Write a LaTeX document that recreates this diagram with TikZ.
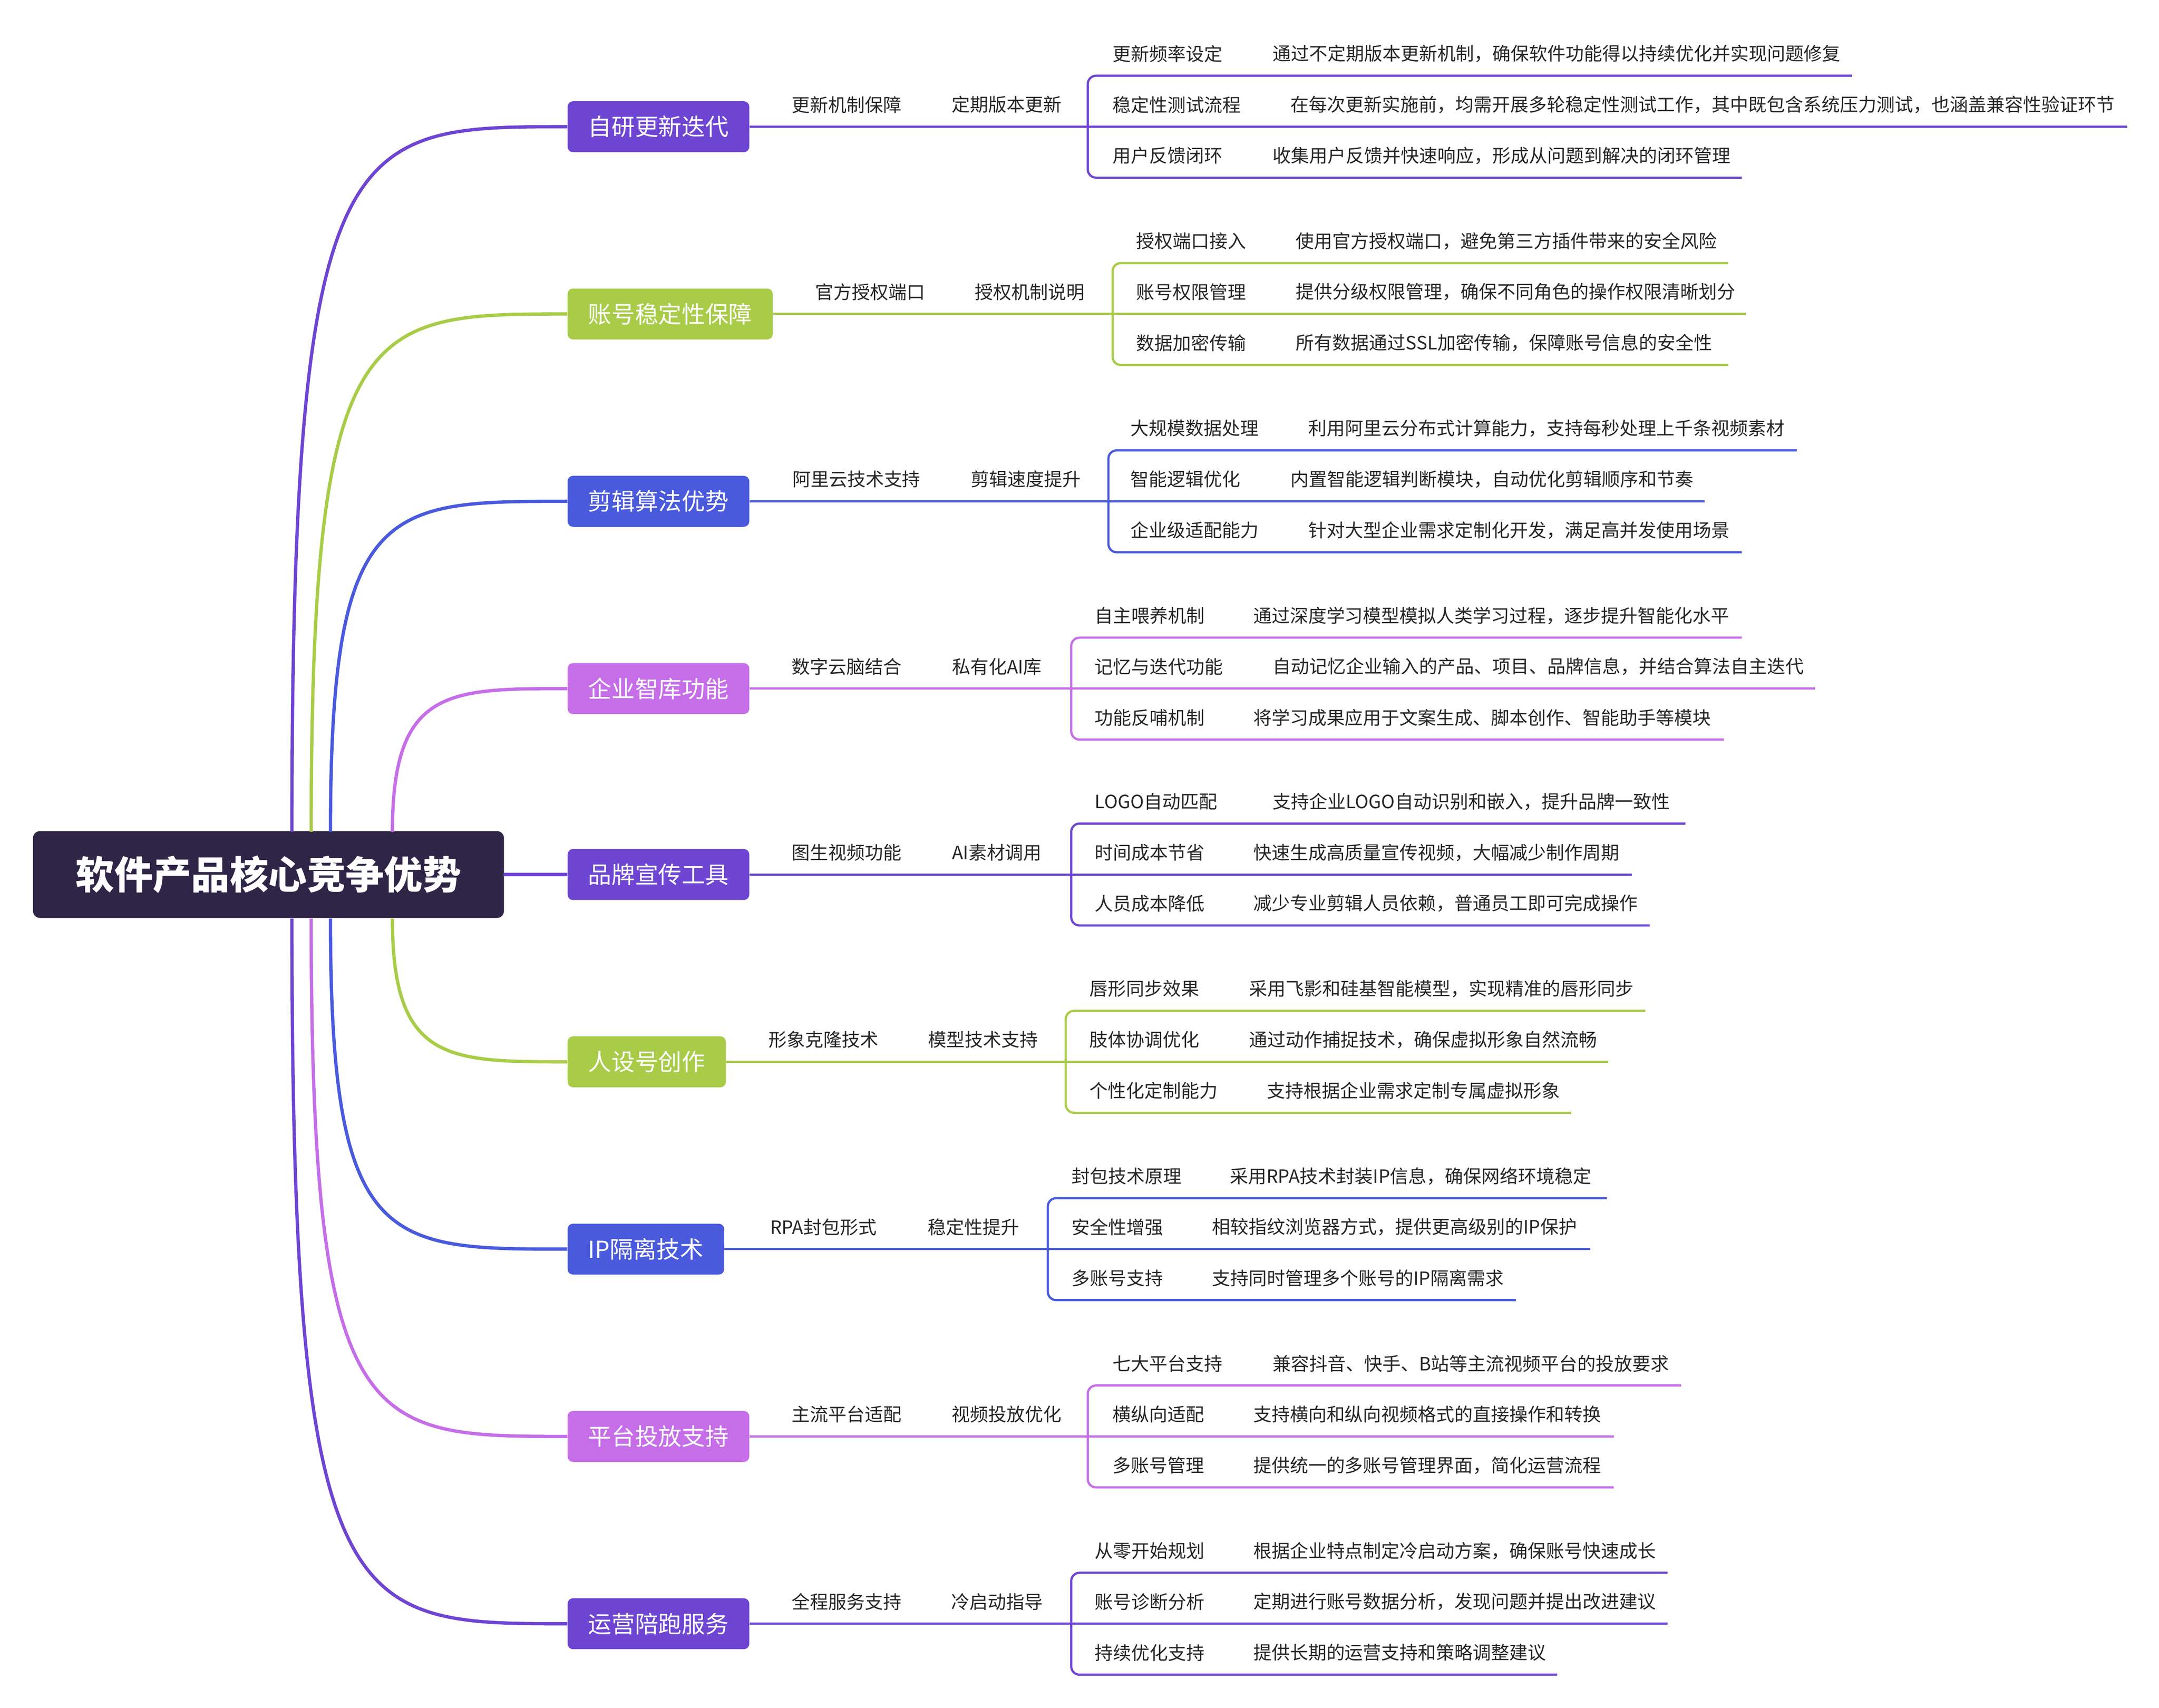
\documentclass[tikz,border=0pt]{standalone}
\usepackage{fontspec}
\setmainfont{Noto Sans CJK SC}
\definecolor{cP}{HTML}{6E45D2}
\definecolor{cG}{HTML}{A8CC48}
\definecolor{cB}{HTML}{4A5ADC}
\definecolor{cK}{HTML}{C56EE8}
\definecolor{root}{HTML}{2F2547}
\begin{document}
\begin{tikzpicture}[x=1pt,y=-1pt,
  box/.style={rounded corners=4pt,anchor=west,minimum height=37pt,inner xsep=15pt,text=white,font=\fontsize{17}{20}\selectfont},
  lab/.style={font=\fontsize{13.3}{16}\selectfont,text=black!85,inner sep=0pt},
  br/.style={line width=2.4pt},
  ln/.style={line width=1.6pt}]
\useasboundingbox (0,0) rectangle (1568,1240);
\node[fill=root,rounded corners=5pt,minimum width=342pt,minimum height=63pt,text=white,font=\fontsize{28}{32}\selectfont\bfseries] (r) at (195,635) {软件产品核心竞争优势};
\foreach \i/\y/\c/\xo/\ta/\xa/\tb/\xb/\bx/\lx/\ra/\da/\dxa/\ea/\rb/\db/\dxb/\eb/\rc/\dc/\dxc/\ec in {
1/92/cP/212/{更新机制保障}/615/{定期版本更新}/731/790/808/{更新频率设定}/{通过不定期版本更新机制，确保软件功能得以持续优化并实现问题修复}/924/1345/{稳定性测试流程}/{在每次更新实施前，均需开展多轮稳定性测试工作，其中既包含系统压力测试，也涵盖兼容性验证环节}/937/1545/{用户反馈闭环}/{收集用户反馈并快速响应，形成从问题到解决的闭环管理}/924/1265,
2/228/cG/226/{官方授权端口}/632/{授权机制说明}/748/808/825/{授权端口接入}/{使用官方授权端口，避免第三方插件带来的安全风险}/941/1255/{账号权限管理}/{提供分级权限管理，确保不同角色的操作权限清晰划分}/941/1268/{数据加密传输}/{所有数据通过SSL加密传输，保障账号信息的安全性}/941/1255,
3/364/cB/240/{阿里云技术支持}/622/{剪辑速度提升}/745/805/821/{大规模数据处理}/{利用阿里云分布式计算能力，支持每秒处理上千条视频素材}/950/1305/{智能逻辑优化}/{内置智能逻辑判断模块，自动优化剪辑顺序和节奏}/937/1238/{企业级适配能力}/{针对大型企业需求定制化开发，满足高并发使用场景}/950/1265,
4/500/cK/285/{数字云脑结合}/615/{私有化AI库}/724/778/795/{自主喂养机制}/{通过深度学习模型模拟人类学习过程，逐步提升智能化水平}/910/1265/{记忆与迭代功能}/{自动记忆企业输入的产品、项目、品牌信息，并结合算法自主迭代}/924/1318/{功能反哺机制}/{将学习成果应用于文案生成、脚本创作、智能助手等模块}/910/1252,
5/635/cP/0/{图生视频功能}/615/{AI素材调用}/724/778/795/{LOGO自动匹配}/{支持企业LOGO自动识别和嵌入，提升品牌一致性}/924/1224/{时间成本节省}/{快速生成高质量宣传视频，大幅减少制作周期}/910/1185/{人员成本降低}/{减少专业剪辑人员依赖，普通员工即可完成操作}/910/1198,
6/771/cG/285/{形象克隆技术}/598/{模型技术支持}/714/774/791/{唇形同步效果}/{采用飞影和硅基智能模型，实现精准的唇形同步}/907/1195/{肢体协调优化}/{通过动作捕捉技术，确保虚拟形象自然流畅}/907/1168/{个性化定制能力}/{支持根据企业需求定制专属虚拟形象}/920/1141,
7/907/cB/240/{RPA封包形式}/598/{稳定性提升}/707/761/778/{封包技术原理}/{采用RPA技术封装IP信息，确保网络环境稳定}/893/1167/{安全性增强}/{相较指纹浏览器方式，提供更高级别的IP保护}/880/1155/{多账号支持}/{支持同时管理多个账号的IP隔离需求}/880/1101,
8/1043/cK/226/{主流平台适配}/615/{视频投放优化}/731/790/808/{七大平台支持}/{兼容抖音、快手、B站等主流视频平台的投放要求}/924/1221/{横纵向适配}/{支持横向和纵向视频格式的直接操作和转换}/910/1172/{多账号管理}/{提供统一的多账号管理界面，简化运营流程}/910/1172,
9/1179/cP/212/{全程服务支持}/615/{冷启动指导}/724/778/795/{从零开始规划}/{根据企业特点制定冷启动方案，确保账号快速成长}/910/1211/{账号诊断分析}/{定期进行账号数据分析，发现问题并提出改进建议}/910/1211/{持续优化支持}/{提供长期的运营支持和策略调整建议}/910/1131}{
  \node[box,fill=\c] (b\i) at (412,\y) {\ifnum\i=1 自研更新迭代\fi\ifnum\i=2 账号稳定性保障\fi\ifnum\i=3 剪辑算法优势\fi\ifnum\i=4 企业智库功能\fi\ifnum\i=5 品牌宣传工具\fi\ifnum\i=6 人设号创作\fi\ifnum\i=7 IP隔离技术\fi\ifnum\i=8 平台投放支持\fi\ifnum\i=9 运营陪跑服务\fi};
  \ifnum\i=5
    \draw[br,\c] (r.east) -- (b\i.west);
  \else
    \ifnum\y<635
      \draw[br,\c] (\xo,604) .. controls (\xo,\y) and (\xo+40,\y) .. (b\i.west);
    \else
      \draw[br,\c] (\xo,667) .. controls (\xo,\y) and (\xo+40,\y) .. (b\i.west);
    \fi
  \fi
  \node[lab] (p\i) at (\xa,\y-16) {\ta};
  \node[lab] (q\i) at (\xb,\y-16) {\tb};
  \coordinate (m\i) at (\bx,\y);
  \draw[ln,\c] (b\i.east) -- (m\i);
  \draw[ln,\c,rounded corners=6pt] (\ea,\y-37) -- (\bx,\y-37) -- (\bx,\y+37) -- (\ec,\y+37);
  \draw[ln,\c] (m\i) -- (\eb,\y);
  \node[lab,anchor=west] (ra\i) at (\lx,\y-53) {\ra};
  \node[lab,anchor=west] (da\i) at (\dxa,\y-53) {\da};
  \node[lab,anchor=west] (rb\i) at (\lx,\y-16) {\rb};
  \node[lab,anchor=west] (db\i) at (\dxb,\y-16) {\db};
  \node[lab,anchor=west] (rc\i) at (\lx,\y+21) {\rc};
  \node[lab,anchor=west] (dc\i) at (\dxc,\y+21) {\dc};
}
\end{tikzpicture}
\end{document}
